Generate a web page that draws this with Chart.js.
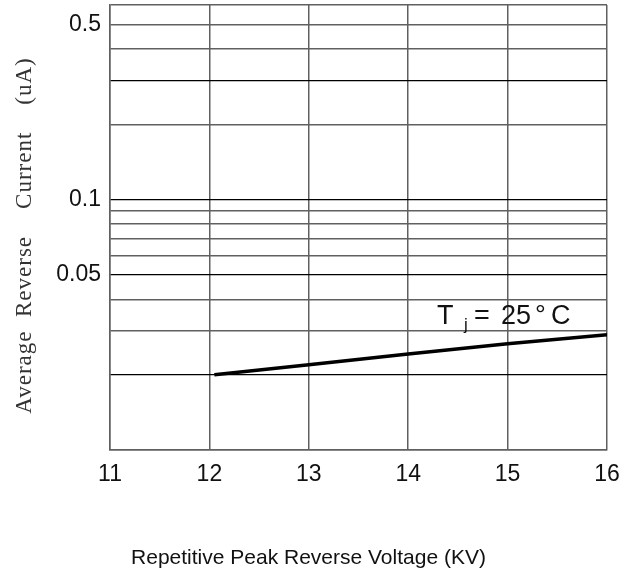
<!DOCTYPE html>
<html>
<head>
<meta charset="utf-8">
<script src="https://cdn.jsdelivr.net/npm/chart.js@4/dist/chart.umd.min.js"></script>
<style>
    html, body { margin: 0; padding: 0; background: #fff; }
    #wrap { width: 634px; height: 578px; }
</style>
</head>
<body>
<div id="wrap"><canvas id="leakChart"></canvas></div>
<script>
// Data (KV vs uA)
const voltage = [12.05, 13, 14, 15, 16];
const current = [0.0200, 0.0219, 0.0242, 0.0266, 0.0289];

// Axis ticks
const xTicks = [11, 12, 13, 14, 15, 16];
const yGrid = [0.01, 0.02, 0.03, 0.04, 0.05, 0.06, 0.07, 0.08, 0.09, 0.1, 0.2, 0.3, 0.4, 0.5, 0.6];
const yLabels = [0.05, 0.1, 0.5];
const yDarkLines = [0.02, 0.05, 0.1, 0.3];

const xTitle = 'Repetitive Peak Reverse Voltage (KV)';
const yTitle = 'Average  Reverse    Current    (uA)';

const isOneOf = (v, list) => list.some(t => Math.abs(t - v) < 1e-9);

// Axis titles + Tj note
const textPlugin = {
    id: 'textPlugin',
    afterDraw(chart) {
        const ctx = chart.ctx;
        const area = chart.chartArea;
        const xs = chart.scales.x;
        const ys = chart.scales.y;
        ctx.save();
        ctx.fillStyle = '#111';

        // x title
        ctx.font = '21px "Liberation Sans", Arial, sans-serif';
        ctx.textAlign = 'center';
        ctx.textBaseline = 'alphabetic';
        ctx.fillText(xTitle, (area.left + area.right) / 2 - 50, 564);

        // y title
        ctx.save();
        ctx.translate(25, (area.top + area.bottom) / 2 + 8);
        ctx.rotate(-Math.PI / 2);
        ctx.font = '23px "Liberation Serif", "DejaVu Serif", serif';
        ctx.letterSpacing = '1px';
        ctx.fillStyle = '#333';
        ctx.textAlign = 'center';
        ctx.textBaseline = 'middle';
        ctx.fillText(yTitle, 0, 0);
        ctx.restore();

        // Tj = 25°C
        const x0 = xs.getPixelForValue(14.3);
        const base = ys.getPixelForValue(0.032);
        ctx.textAlign = 'left';
        ctx.font = '27px "Liberation Sans", Arial, sans-serif';
        ctx.fillText('T', x0 - 1, base);
        ctx.fillText('=', x0 + 36, base);
        ctx.fillText('25', x0 + 63, base);
        ctx.fillText('°', x0 + 97, base);
        ctx.fillText('C', x0 + 113, base);
        ctx.font = '17px "Liberation Sans", Arial, sans-serif';
        ctx.fillText('j', x0 + 26, base + 6);
        ctx.restore();
    }
};

document.addEventListener('DOMContentLoaded', function() {
    const ctx = document.getElementById('leakChart').getContext('2d');

    new Chart(ctx, {
        type: 'line',
        data: {
            datasets: [{
                data: voltage.map((v, i) => ({ x: v, y: current[i] })),
                borderColor: '#000',
                borderWidth: 3.5,
                pointRadius: 0,
                tension: 0,
                fill: false
            }]
        },
        options: {
            responsive: true,
            maintainAspectRatio: false,
            animation: false,
            layout: { padding: { top: 5, right: 27, left: 0, bottom: 0 } },
            plugins: {
                legend: { display: false },
                tooltip: { enabled: false }
            },
            scales: {
                x: {
                    type: 'linear',
                    min: xTicks[0],
                    max: xTicks[xTicks.length - 1],
                    afterBuildTicks: scale => {
                        scale.ticks = xTicks.map(v => ({ value: v }));
                    },
                    afterFit: scale => {
                        scale.height = 128;
                        scale.paddingLeft = 0;
                        scale.paddingRight = 0;
                    },
                    grid: { color: '#606060', lineWidth: 1.5, drawTicks: false },
                    border: { color: '#606060', width: 1.5 },
                    ticks: {
                        autoSkip: false,
                        maxRotation: 0,
                        padding: 11,
                        color: '#111',
                        font: { family: '"Liberation Sans", Arial, sans-serif', size: 23 }
                    }
                },
                y: {
                    type: 'logarithmic',
                    min: yGrid[0],
                    max: yGrid[yGrid.length - 1],
                    afterBuildTicks: scale => {
                        scale.ticks = yGrid.map(v => ({ value: v }));
                    },
                    afterFit: scale => {
                        scale.width = 110;
                        scale.paddingTop = 0;
                        scale.paddingBottom = 0;
                    },
                    grid: {
                        drawTicks: false,
                        color: c => isOneOf(c.tick.value, yDarkLines) ? '#000' : '#606060',
                        lineWidth: c => isOneOf(c.tick.value, yDarkLines) ? 1.3 : 1.5
                    },
                    border: { color: '#606060', width: 1.5 },
                    ticks: {
                        autoSkip: false,
                        padding: 9,
                        color: '#111',
                        font: { family: '"Liberation Sans", Arial, sans-serif', size: 23 },
                        callback: v => isOneOf(v, yLabels) ? String(v) : ''
                    }
                }
            }
        },
        plugins: [textPlugin]
    });
});
</script>
</body>
</html>
